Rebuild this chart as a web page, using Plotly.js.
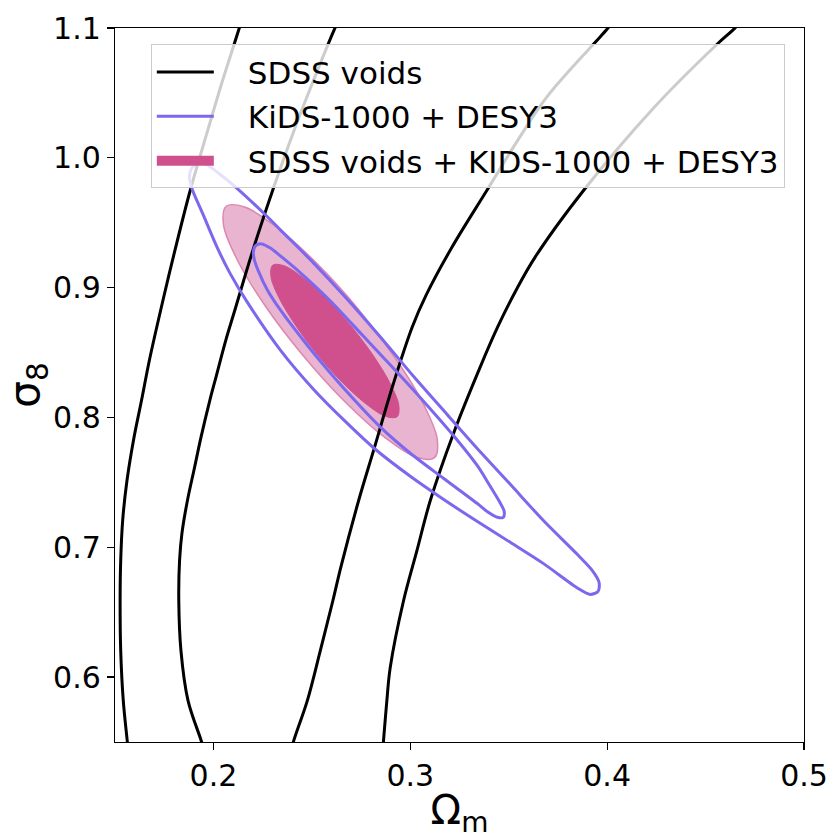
<!DOCTYPE html>
<html>
<head>
<meta charset="utf-8">
<script src="https://cdn.plot.ly/plotly-3.0.1.min.js"></script>
<style>
html,body{margin:0;padding:0;background:#ffffff;}
#chart{width:830px;height:839px;}
</style>
</head>
<body>
<div id="chart"></div>
<script>
// ---------------- data ----------------
const seriesNames = ["SDSS voids", "KiDS-1000 + DESY3", "SDSS voids + KIDS-1000 + DESY3"];

const xTicks = [0.2, 0.3, 0.4, 0.5];
const xTickText = ["0.2", "0.3", "0.4", "0.5"];
const yTicks = [0.6, 0.7, 0.8, 0.9, 1.0, 1.1];
const yTickText = ["0.6", "0.7", "0.8", "0.9", "1.0", "1.1"];

// SDSS voids contours (open branches of the 68% / 95% bananas)
const voidsOuterLeftX  = [0.1568, 0.1562, 0.1542, 0.1529, 0.1526, 0.1529, 0.1539, 0.1561, 0.1594, 0.1635, 0.1675, 0.1744, 0.1805, 0.1883, 0.1972, 0.2048, 0.2129, 0.2147];
const voidsOuterLeftY  = [0.5417, 0.5510, 0.5819, 0.6204, 0.6590, 0.6899, 0.7208, 0.7516, 0.7825, 0.8134, 0.8443, 0.8905, 0.9291, 0.9754, 1.0217, 1.0603, 1.0988, 1.1081];
const voidsInnerLeftX  = [0.1960, 0.1938, 0.1871, 0.1835, 0.1824, 0.1828, 0.1840, 0.1868, 0.1901, 0.1937, 0.1982, 0.2013, 0.2063, 0.2109, 0.2201, 0.2302, 0.2411, 0.2510, 0.2614, 0.2650];
const voidsInnerLeftY  = [0.540, 0.551, 0.5819, 0.6204, 0.6590, 0.6899, 0.7107, 0.7361, 0.7593, 0.7848, 0.8134, 0.8311, 0.8596, 0.8828, 0.9291, 0.9754, 1.0217, 1.0603, 1.0988, 1.11];
const voidsInnerRightX = [0.2390, 0.2408, 0.2477, 0.2543, 0.2607, 0.2647, 0.2738, 0.2814, 0.2915, 0.3010, 0.3081, 0.3213, 0.3391, 0.3548, 0.3695, 0.3929, 0.3998, 0.4030];
const voidsInnerRightY = [0.540, 0.551, 0.5819, 0.6204, 0.6590, 0.6845, 0.7362, 0.7748, 0.8265, 0.8697, 0.8944, 0.9315, 0.9754, 1.0140, 1.0471, 1.0873, 1.0988, 1.105];
const voidsOuterRightX = [0.2858, 0.2864, 0.2881, 0.2898, 0.2966, 0.3034, 0.3102, 0.3220, 0.3355, 0.3444, 0.3538, 0.3635, 0.3883, 0.4228, 0.4557, 0.4641, 0.4700];
const voidsOuterRightY = [0.540, 0.551, 0.5819, 0.6073, 0.6590, 0.6976, 0.7362, 0.7879, 0.8388, 0.8697, 0.8982, 0.9237, 0.9754, 1.0371, 1.0873, 1.0988, 1.1081];

// KiDS-1000 + DESY3 contours (closed)
const kidsOuterX = [0.1878, 0.1888, 0.1919, 0.1964, 0.2036, 0.2117, 0.2274, 0.2340, 0.2508, 0.2679, 0.2848, 0.3015, 0.3186, 0.3339, 0.3508, 0.3675, 0.3853, 0.3924, 0.3959, 0.3954, 0.3914, 0.3853, 0.3675, 0.3508, 0.3339, 0.3168, 0.3000, 0.2822, 0.2679, 0.2508, 0.2340, 0.2171, 0.2086, 0.2020, 0.1944, 0.1893, 0.1878];
const kidsOuterY = [0.9846, 0.9916, 0.9954, 0.9947, 0.9870, 0.9769, 0.9546, 0.9445, 0.9191, 0.8913, 0.8620, 0.8319, 0.8025, 0.7763, 0.7485, 0.7208, 0.6938, 0.6822, 0.6729, 0.6660, 0.6637, 0.6683, 0.6876, 0.7038, 0.7200, 0.7370, 0.7547, 0.7755, 0.7956, 0.8218, 0.8519, 0.8890, 0.9106, 0.9306, 0.9576, 0.9754, 0.9846];
const kidsInnerX = [0.2203, 0.2213, 0.2244, 0.2289, 0.2340, 0.2425, 0.2594, 0.2761, 0.2932, 0.3076, 0.3218, 0.3339, 0.3406, 0.3452, 0.3477, 0.3472, 0.3442, 0.3396, 0.3339, 0.3168, 0.3000, 0.2848, 0.2721, 0.2594, 0.2476, 0.2340, 0.2274, 0.2228, 0.2208, 0.2203];
const kidsInnerY = [0.9275, 0.9322, 0.9337, 0.9306, 0.9245, 0.9137, 0.8897, 0.8627, 0.8350, 0.8110, 0.7863, 0.7632, 0.7470, 0.7354, 0.7277, 0.7231, 0.7231, 0.7269, 0.7339, 0.7532, 0.7724, 0.7925, 0.8126, 0.8342, 0.8558, 0.8828, 0.8982, 0.9129, 0.9214, 0.9275];

// Combined contours (filled)
const combOuterX = [0.3123, 0.3137, 0.3068, 0.2926, 0.2735, 0.2521, 0.2319, 0.2158, 0.2065, 0.2051, 0.2120, 0.2261, 0.2453, 0.2667, 0.2869, 0.3029, 0.3123];
const combOuterY = [0.7690, 0.7831, 0.8100, 0.8452, 0.8836, 0.9193, 0.9468, 0.9621, 0.9627, 0.9485, 0.9217, 0.8864, 0.8481, 0.8123, 0.7848, 0.7695, 0.7690];
const combInnerX = [0.2933, 0.2942, 0.2901, 0.2817, 0.2703, 0.2576, 0.2454, 0.2358, 0.2301, 0.2292, 0.2332, 0.2416, 0.2530, 0.2658, 0.2779, 0.2876, 0.2933];
const combInnerY = [0.8005, 0.8090, 0.8252, 0.8465, 0.8697, 0.8912, 0.9078, 0.9169, 0.9173, 0.9087, 0.8925, 0.8713, 0.8481, 0.8265, 0.8100, 0.8008, 0.8005];

// ---------------- styling ----------------
const FONT = "DejaVu Sans, Liberation Sans, sans-serif";
const BLACK = "#000000";
const PURPLE = "#7B68EE";
const PINK_DARK = "#D0508E";
const PINK_LIGHT = "#E8B4CF";
const PINK_EDGE = "#DE86B2";
const LEGEND_DASH = "57px,400px";

const traces = [];

// filled combined contours (drawn first, below the lines)
traces.push({
  x: combOuterX, y: combOuterY, type: "scatter", mode: "lines",
  fill: "toself", fillcolor: PINK_LIGHT,
  line: {color: PINK_EDGE, width: 1.5, shape: "spline", smoothing: 1.0},
  showlegend: false, hoverinfo: "skip"
});
traces.push({
  x: combInnerX, y: combInnerY, type: "scatter", mode: "lines",
  fill: "toself", fillcolor: PINK_DARK,
  line: {color: PINK_DARK, width: 1, shape: "spline", smoothing: 1.0},
  showlegend: false, hoverinfo: "skip"
});

const voidBranches = [
  [voidsOuterLeftX, voidsOuterLeftY],
  [voidsInnerLeftX, voidsInnerLeftY],
  [voidsInnerRightX, voidsInnerRightY],
  [voidsOuterRightX, voidsOuterRightY]
];
voidBranches.forEach(function (b) {
  traces.push({
    x: b[0], y: b[1], type: "scatter", mode: "lines",
    line: {color: BLACK, width: 3, shape: "spline", smoothing: 1.0},
    showlegend: false, hoverinfo: "skip"
  });
});

[[kidsOuterX, kidsOuterY], [kidsInnerX, kidsInnerY]].forEach(function (c) {
  traces.push({
    x: c[0], y: c[1], type: "scatter", mode: "lines",
    line: {color: PURPLE, width: 3, shape: "spline", smoothing: 0.8},
    showlegend: false, hoverinfo: "skip"
  });
});

// legend entries (legend-only traces, styled like the marks they describe)
const legendStyles = [
  {color: BLACK, width: 3},
  {color: PURPLE, width: 3},
  {color: PINK_DARK, width: 10}
];
seriesNames.forEach(function (nm, i) {
  traces.push({
    x: [null], y: [null], type: "scatter", mode: "lines",
    line: {color: legendStyles[i].color, width: legendStyles[i].width, dash: LEGEND_DASH},
    name: nm, legendgroup: "g" + i, legendrank: i + 1,
    showlegend: true, hoverinfo: "skip"
  });
});

const layout = {
  width: 830, height: 839,
  margin: {l: 115, r: 26, t: 28, b: 97, pad: 0},
  paper_bgcolor: "#ffffff", plot_bgcolor: "#ffffff",
  font: {family: FONT, color: "#000000", size: 30},
  showlegend: true,
  xaxis: {
    range: [0.15, 0.5], tickmode: "array", tickvals: xTicks, ticktext: xTickText,
    ticks: "outside", ticklen: 7, tickwidth: 1.2, tickcolor: "#000",
    showline: true, linecolor: "#000", linewidth: 1.2, mirror: true,
    showgrid: false, zeroline: false,
    tickfont: {family: FONT, size: 30, color: "#000"},
    title: {text: "Ω<sub>m</sub>", font: {family: FONT, size: 40, color: "#000"}, standoff: 12}
  },
  yaxis: {
    range: [0.55, 1.1], tickmode: "array", tickvals: yTicks, ticktext: yTickText,
    ticks: "outside", ticklen: 7, tickwidth: 1.2, tickcolor: "#000",
    showline: true, linecolor: "#000", linewidth: 1.2, mirror: true,
    showgrid: false, zeroline: false,
    tickfont: {family: FONT, size: 30, color: "#000"},
    title: {text: "σ<sub>8</sub>", font: {family: FONT, size: 42, color: "#000"}, standoff: 10}
  },
  legend: {
    x: 0.052, y: 0.977, xanchor: "left", yanchor: "top",
    bgcolor: "rgba(255,255,255,0.8)", bordercolor: "#cccccc", borderwidth: 1,
    font: {family: FONT, size: 31, color: "#000"},
    itemwidth: 86, traceorder: "grouped", tracegroupgap: 1
  }
};

Plotly.newPlot("chart", traces, layout, {displayModeBar: false, staticPlot: true});
</script>
</body>
</html>
